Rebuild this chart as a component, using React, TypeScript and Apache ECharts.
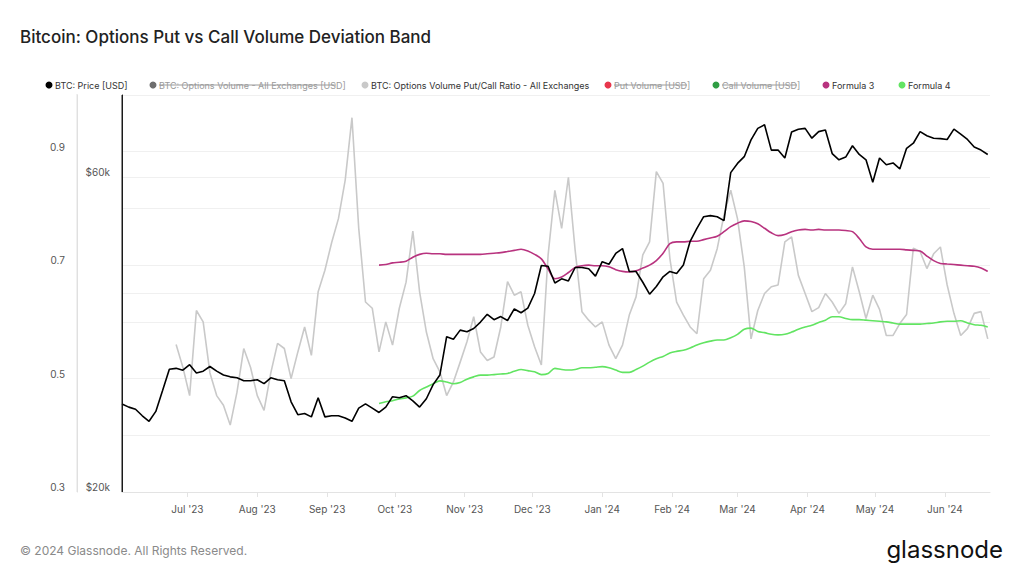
import React, { useEffect, useRef } from "react";
import * as echarts from "echarts";

// ---- data ----
const PRICE_START = "2023-06-02";
const RATIO_START = "2023-06-26";
const FORMULA_START = "2023-09-24";
const STEP_DAYS = 3;
const X_MIN = "2023-06-02";
const X_MAX = "2024-06-21";

// BTC price in thousands USD, every 3 days from PRICE_START
const priceK = [
  27.2, 26.9, 26.7, 26.1, 25.6, 26.5, 28.5, 30.7, 30.8, 30.6, 31.2, 30.3, 30.5, 31.0, 30.5, 30.1,
  29.9, 29.8, 29.5, 29.5, 29.6, 29.2, 29.8, 29.6, 29.5, 27.4, 26.2, 26.3, 26.0, 27.8, 26.0, 26.1,
  26.1, 25.9, 25.6, 26.8, 27.2, 26.8, 26.4, 26.9, 27.9, 27.8, 28.0, 27.5, 26.9, 27.7, 29.1, 30.1,
  34.4, 34.1, 35.2, 35.0, 35.4, 36.2, 37.2, 36.5, 36.9, 36.4, 37.9, 37.4, 38.0, 40.0, 44.1, 44.0,
  41.5, 42.1, 41.8, 43.8, 43.8, 43.6, 42.5, 44.7, 44.3, 46.0, 46.8, 43.2, 43.2, 41.6, 39.9, 41.0,
  42.4, 43.2, 42.9, 44.2, 48.0, 50.2, 52.3, 52.5, 52.3, 51.6, 61.0, 63.0, 64.5, 68.4, 71.2, 72.1,
  66.0, 66.0, 64.2, 70.3, 71.0, 71.2, 68.8, 70.4, 70.8, 65.2, 63.8, 64.4, 67.0, 65.0, 63.8, 59.0,
  64.2, 62.7, 63.1, 61.8, 66.4, 67.6, 70.4, 69.4, 68.8, 68.7, 68.5, 71.0, 69.8, 68.5, 66.7, 66.0,
  65.0,
];

// Options volume put/call ratio, every 3 days from RATIO_START
const putCallRatio = [
  0.56, 0.52, 0.47, 0.62, 0.6, 0.51, 0.47, 0.453, 0.418, 0.476, 0.553, 0.52, 0.47, 0.444, 0.51,
  0.562, 0.553, 0.5, 0.547, 0.591, 0.541, 0.653, 0.691, 0.74, 0.782, 0.85, 0.96, 0.765, 0.635,
  0.624, 0.547, 0.6, 0.559, 0.624, 0.67, 0.76, 0.653, 0.582, 0.535, 0.512, 0.47, 0.494, 0.529,
  0.565, 0.609, 0.547, 0.532, 0.538, 0.591, 0.671, 0.647, 0.653, 0.594, 0.556, 0.524, 0.718,
  0.832, 0.765, 0.855, 0.726, 0.618, 0.603, 0.591, 0.6, 0.559, 0.535, 0.559, 0.612, 0.644, 0.718,
  0.741, 0.865, 0.844, 0.712, 0.635, 0.612, 0.591, 0.579, 0.676, 0.691, 0.729, 0.788, 0.832,
  0.782, 0.697, 0.57, 0.62, 0.65, 0.662, 0.665, 0.741, 0.75, 0.682, 0.65, 0.618, 0.625, 0.65,
  0.635, 0.615, 0.632, 0.697, 0.653, 0.606, 0.647, 0.622, 0.576, 0.576, 0.597, 0.613, 0.73,
  0.724, 0.694, 0.72, 0.732, 0.665, 0.615, 0.576, 0.588, 0.615, 0.618, 0.57,
];

// Formula 3 (upper band), every 3 days from FORMULA_START
const formula3 = [
  0.7, 0.701, 0.704, 0.705, 0.707, 0.714, 0.719, 0.721, 0.72, 0.72, 0.719, 0.719, 0.719, 0.719,
  0.719, 0.719, 0.72, 0.721, 0.722, 0.724, 0.726, 0.728, 0.725, 0.719, 0.711, 0.693, 0.676,
  0.679, 0.687, 0.696, 0.699, 0.7, 0.699, 0.699, 0.697, 0.692, 0.689, 0.688, 0.69, 0.695, 0.7,
  0.708, 0.721, 0.738, 0.741, 0.741, 0.742, 0.742, 0.745, 0.748, 0.751, 0.759, 0.768, 0.774,
  0.778, 0.777, 0.773, 0.765, 0.757, 0.752, 0.754, 0.759, 0.762, 0.763, 0.762, 0.763, 0.762,
  0.762, 0.762, 0.761, 0.759, 0.747, 0.732, 0.728, 0.728, 0.728, 0.728, 0.728, 0.727, 0.726,
  0.725, 0.716, 0.708, 0.703, 0.702, 0.701, 0.7, 0.699, 0.698, 0.695, 0.689,
];

// Formula 4 (lower band), every 3 days from FORMULA_START
const formula4 = [
  0.456, 0.459, 0.461, 0.464, 0.466, 0.469, 0.479, 0.485, 0.491, 0.496, 0.494, 0.491, 0.493,
  0.499, 0.503, 0.506, 0.506, 0.507, 0.508, 0.509, 0.513, 0.516, 0.514, 0.512, 0.507, 0.509,
  0.518, 0.516, 0.515, 0.516, 0.519, 0.519, 0.52, 0.521, 0.519, 0.515, 0.511, 0.511, 0.516,
  0.522, 0.529, 0.535, 0.539, 0.545, 0.548, 0.55, 0.554, 0.559, 0.563, 0.566, 0.568, 0.568,
  0.572, 0.578, 0.587, 0.589, 0.583, 0.581, 0.578, 0.577, 0.578, 0.582, 0.587, 0.591, 0.594,
  0.599, 0.603, 0.609, 0.609, 0.606, 0.604, 0.604, 0.603, 0.602, 0.601, 0.6, 0.598, 0.596,
  0.596, 0.596, 0.596, 0.597, 0.598, 0.6, 0.601, 0.601, 0.602, 0.598, 0.595, 0.594, 0.591,
];

const ratioLabelTicks = [0.3, 0.5, 0.7, 0.9];
const priceLabelTicks = [20000, 60000];
const priceGridLines = [40000, 60000];
const monthNames = ["Jan", "Feb", "Mar", "Apr", "May", "Jun", "Jul", "Aug", "Sep", "Oct", "Nov", "Dec"];

const legendItems = [
  { name: "BTC: Price [USD]", color: "#000000", active: true },
  { name: "BTC: Options Volume - All Exchanges [USD]", color: "#6e6e6e", active: false },
  { name: "BTC: Options Volume Put/Call Ratio - All Exchanges", color: "#c9c9c9", active: true },
  { name: "Put Volume [USD]", color: "#e8364c", active: false },
  { name: "Call Volume [USD]", color: "#2f9e44", active: false },
  { name: "Formula 3", color: "#b8337f", active: true },
  { name: "Formula 4", color: "#62e462", active: true },
];
// legend layout (pixel positions)
const legendDotX = [49, 153, 365, 608, 716, 826, 902];
const legendTextEnd = [123, 336, 579, 687, 797, 872, 948];

const DAY = 86400000;
const utc = (s: string) => Date.parse(s + "T00:00:00Z");

function toSeries(start: string, values: number[], scale = 1) {
  const t0 = utc(start);
  return values.map((v, i) => [t0 + i * STEP_DAYS * DAY, v * scale]);
}

const FONT = "Inter, 'Noto Sans', sans-serif";

// plot frame (pixels)
const GRID_LEFT = 122;
const GRID_RIGHT = 34;
const GRID_TOP = 95;
const GRID_BOTTOM = 84;

export default function App() {
  const ref = useRef<HTMLDivElement>(null);

  useEffect(() => {
    if (!ref.current) return;
    const chart = echarts.init(ref.current, null, { renderer: "svg" });

    const legendGraphics: any[] = [];
    legendItems.forEach((it, i) => {
      const cx = legendDotX[i];
      const ly = 85;
      legendGraphics.push({
        type: "circle",
        shape: { cx, cy: ly, r: 3.5 },
        style: { fill: it.color },
        silent: true,
      });
      legendGraphics.push({
        type: "text",
        x: cx + 6,
        y: ly,
        style: {
          text: it.name,
          fill: it.active ? "#333333" : "#9a9a9a",
          fontSize: 9,
          fontFamily: FONT,
          verticalAlign: "middle",
          align: "left",
        },
        silent: true,
      });
      if (!it.active) {
        legendGraphics.push({
          type: "line",
          shape: { x1: cx + 6, y1: ly, x2: legendTextEnd[i], y2: ly },
          style: { stroke: "#9a9a9a", lineWidth: 1 },
          silent: true,
        });
      }
    });

    const yLabel = {
      color: "#555555",
      fontSize: 10,
      margin: 12,
      verticalAlign: "bottom",
      lineHeight: 10,
    };

    const plotBottom = 576 - GRID_BOTTOM;

    const option: any = {
      animation: false,
      backgroundColor: "#ffffff",
      textStyle: { fontFamily: FONT },
      grid: {
        left: GRID_LEFT,
        right: GRID_RIGHT,
        top: GRID_TOP,
        bottom: GRID_BOTTOM,
        containLabel: false,
        outerBoundsMode: "none",
      },
      xAxis: {
        type: "time",
        min: utc(X_MIN),
        max: utc(X_MAX),
        minInterval: 28 * DAY,
        maxInterval: 31 * DAY,
        axisLine: { onZero: false, lineStyle: { color: "#e3e3e3" } },
        axisTick: { show: true, length: 5, lineStyle: { color: "#e3e3e3" } },
        splitLine: { show: false },
        axisLabel: {
          color: "#555555",
          fontSize: 10,
          margin: 12,
          showMinLabel: false,
          showMaxLabel: false,
          formatter: (v: number) => {
            const d = new Date(v);
            return monthNames[d.getUTCMonth()] + " '" + String(d.getUTCFullYear()).slice(2);
          },
        },
      },
      yAxis: [
        {
          type: "value",
          min: 0.3,
          max: 1.0,
          interval: 0.1,
          position: "left",
          offset: 45,
          axisLine: { show: true, onZero: false, lineStyle: { color: "#dedede" } },
          axisTick: { show: false },
          splitLine: { show: true, lineStyle: { color: "#f0f0f0" } },
          axisLabel: {
            ...yLabel,
            formatter: (v: number) =>
              ratioLabelTicks.some((t) => Math.abs(t - v) < 1e-6) ? v.toFixed(1) : "",
          },
        },
        {
          type: "log",
          logBase: 10,
          min: 20000,
          max: 80000,
          position: "left",
          offset: 0,
          axisLine: { show: true, onZero: false, lineStyle: { color: "#1a1a1a", width: 1 } },
          axisTick: { show: false, customValues: priceGridLines },
          splitLine: { show: true, lineStyle: { color: "#f0f0f0" } },
          axisLabel: {
            ...yLabel,
            customValues: priceLabelTicks,
            formatter: (v: number) => "$" + Math.round(v / 1000) + "k",
          },
        },
      ],
      series: [
        {
          type: "line",
          name: "BTC: Options Volume Put/Call Ratio - All Exchanges",
          yAxisIndex: 0,
          data: toSeries(RATIO_START, putCallRatio),
          showSymbol: false,
          symbol: "none",
          lineStyle: { color: "#c9c9c9", width: 1.6 },
          z: 2,
        },
        {
          type: "line",
          name: "Formula 4",
          yAxisIndex: 0,
          data: toSeries(FORMULA_START, formula4),
          showSymbol: false,
          symbol: "none",
          smooth: 0.3,
          lineStyle: { color: "#62e462", width: 1.6 },
          z: 3,
        },
        {
          type: "line",
          name: "Formula 3",
          yAxisIndex: 0,
          data: toSeries(FORMULA_START, formula3),
          showSymbol: false,
          symbol: "none",
          smooth: 0.3,
          lineStyle: { color: "#b8337f", width: 1.6 },
          z: 4,
        },
        {
          type: "line",
          name: "BTC: Price [USD]",
          yAxisIndex: 1,
          data: toSeries(PRICE_START, priceK, 1000),
          showSymbol: false,
          symbol: "none",
          lineStyle: { color: "#000000", width: 1.6 },
          z: 5,
        },
      ],
      graphic: [
        {
          type: "line",
          shape: { x1: GRID_LEFT, y1: GRID_TOP, x2: GRID_LEFT, y2: plotBottom },
          style: { stroke: "#1a1a1a", lineWidth: 1 },
          z: 100,
          silent: true,
        },
        {
          type: "line",
          shape: { x1: GRID_LEFT - 45, y1: GRID_TOP - 1, x2: GRID_LEFT - 45, y2: plotBottom },
          style: { stroke: "#e2e2e2", lineWidth: 1 },
          z: 100,
          silent: true,
        },
        {
          type: "text",
          x: 20,
          y: 37,
          style: {
            text: "Bitcoin: Options Put vs Call Volume Deviation Band",
            fill: "#222222",
            fontSize: 17,
            fontWeight: 500,
            fontFamily: FONT,
            verticalAlign: "middle",
          },
          silent: true,
        },
        ...legendGraphics,
        {
          type: "text",
          x: 20,
          y: 550,
          style: {
            text: "© 2024 Glassnode. All Rights Reserved.",
            fill: "#8a8a8a",
            fontSize: 12,
            fontFamily: FONT,
            verticalAlign: "middle",
          },
          silent: true,
        },
        {
          type: "text",
          x: 1003,
          y: 549,
          style: {
            text: "glassnode",
            fill: "#111111",
            fontSize: 24,
            fontFamily: FONT,
            align: "right",
            verticalAlign: "middle",
          },
          silent: true,
        },
      ],
    };

    chart.setOption(option);
    return () => chart.dispose();
  }, []);

  return (
    <div
      ref={ref}
      style={{ position: "fixed", left: 0, top: 0, width: 1024, height: 576, background: "#fff" }}
    />
  );
}
